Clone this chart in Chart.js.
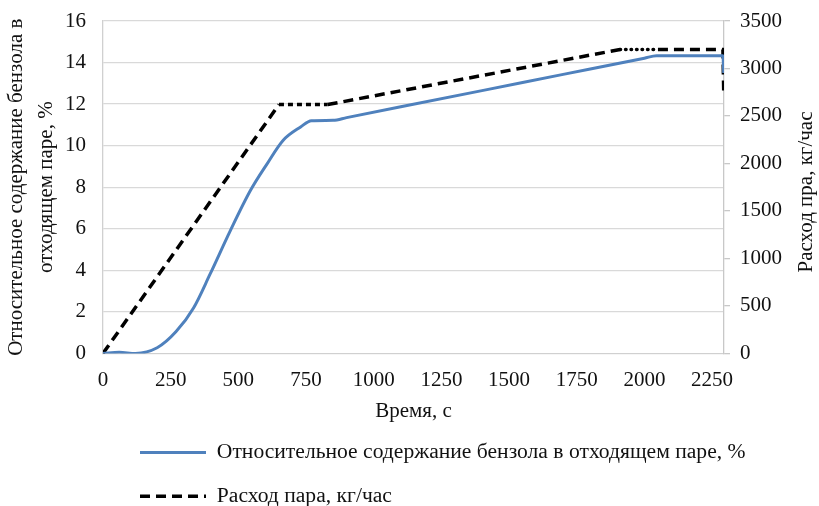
<!DOCTYPE html>
<html>
<head>
<meta charset="utf-8">
<script src="https://cdn.jsdelivr.net/npm/chart.js@4/dist/chart.umd.min.js"></script>
<style>
  html, body { margin: 0; padding: 0; background: #fff; }
  #wrap { width: 819px; height: 506px; }
</style>
</head>
<body>
<div id="wrap"><canvas id="chart"></canvas></div>
<script>
// time, s
var benz_t = [0, 60, 120, 200, 270, 335, 395, 470, 545, 605, 665, 730, 770, 850, 900, 1100, 1400, 1700, 2000, 2045, 2290, 2293];
// benzene in outgoing steam, %
var benz_v = [0, 0.05, 0, 0.27, 1.05, 2.2, 3.8, 5.9, 7.85, 9.1, 10.25, 10.9, 11.2, 11.22, 11.35, 11.87, 12.65, 13.43, 14.21, 14.33, 14.33, 13.5];

var steam_t = [0, 650, 830, 1910, 2050, 2290, 2293];
// steam flow, kg/h
var steam_v = [0, 2620, 2620, 3200, 3200, 3200, 2750];

var x_ticks = [0, 250, 500, 750, 1000, 1250, 1500, 1750, 2000, 2250];

var label_benz = 'Относительное содержание бензола в отходящем паре, %';
var label_steam = 'Расход пара, кг/час';
var title_x = 'Время, с';
var title_y = ['Относительное содержание бензола в', 'отходящем паре, %'];
var title_y1 = 'Расход пра, кг/час';

function pairs(xs, ys)
{
    var out = [];
    for (let i = 0; i < xs.length; i++)
	out.push({ x: xs[i], y: ys[i] });
    return out;
}

// dense parts of the steam series came out dotted in the original
function seg_dash(ctx)
{
    var a = ctx.p0.parsed.x, b = ctx.p1.parsed.x;
    if (a >= 650 && b <= 830)
	return [5, 4];
    if (a >= 1900 && b <= 2060)
	return [0.5, 5];
    return undefined;
}

function seg_cap(ctx)
{
    var a = ctx.p0.parsed.x, b = ctx.p1.parsed.x;
    if (a >= 1900 && b <= 2060)
	return 'round';
    return undefined;
}

function plain(v) { return String(v); }

// point style legend loses the dataset dash, put it back
function legend_labels(chart)
{
    var items = Chart.defaults.plugins.legend.labels.generateLabels(chart);
    items.forEach(function(it) {
	var ds = chart.data.datasets[it.datasetIndex];
	it.lineDash = ds.borderDash || [];
	it.lineWidth = ds.borderWidth;
	it.strokeStyle = ds.borderColor;
    });
    return items;
}

var fontFam = "'Liberation Serif', 'Times New Roman', serif";
var fontSize = 21;
Chart.defaults.font.family = fontFam;
Chart.defaults.font.size = fontSize;
Chart.defaults.color = '#111';

var rightTitle = {
    id: 'rightTitle',
    beforeDraw: function(chart) {
	// legend rows start a bit right of the plot edge in the original
	var lg = chart.legend;
	if (lg) {
	    lg.left = chart.chartArea.left + 15;
	    lg.right = chart.width;
	    lg.bottom = chart.height;
	}
    },
    afterDraw: function(chart) {
	var c = chart.ctx;
	c.save();
	c.font = fontSize + 'px ' + fontFam;
	c.fillStyle = '#111';
	c.textAlign = 'center';
	c.textBaseline = 'middle';
	c.translate(806, 192);
	c.rotate(-Math.PI / 2);
	c.fillText(title_y1, 0, 0);
	c.restore();
    }
};

const ctx = document.getElementById('chart');

new Chart(ctx, {
    type: 'line',
    data: {
	datasets: [{
	    label: label_benz,
	    data: pairs(benz_t, benz_v),
	    yAxisID: 'y',
	    borderColor: '#4f81bd',
	    backgroundColor: '#4f81bd',
	    borderWidth: 3,
	    pointRadius: 0,
	    pointStyle: 'line',
	    cubicInterpolationMode: 'monotone'
	}, {
	    label: label_steam,
	    data: pairs(steam_t, steam_v),
	    yAxisID: 'y1',
	    borderColor: '#000',
	    backgroundColor: '#000',
	    borderWidth: 3.5,
	    borderDash: [10, 6],
	    pointRadius: 0,
	    pointStyle: 'line',
	    tension: 0,
	    segment: { borderDash: seg_dash, borderCapStyle: seg_cap }
	}]
    },
    options: {
	responsive: true,
	maintainAspectRatio: false,
	animation: false,
	layout: { padding: { top: 0, right: 35, left: 0, bottom: -11 } },
	plugins: {
	    tooltip: { enabled: false },
	    legend: {
		position: 'bottom',
		align: 'start',
		fullSize: false,
		labels: {
		    usePointStyle: true,
		    pointStyleWidth: 66,
		    padding: 22,
		    color: '#111',
		    font: { size: 21.6 },
		    generateLabels: legend_labels
		}
	    }
	},
	scales: {
	    x: {
		type: 'linear',
		min: 0,
		max: 2294,
		afterBuildTicks: function(s) {
		    s.ticks = x_ticks.map(function(v) { return { value: v }; });
		},
		grid: { display: false },
		border: { display: true, color: '#d0d0d0' },
		ticks: { padding: 6, maxRotation: 0, callback: plain },
		title: { display: true, text: title_x, padding: { top: 0, bottom: -4 } }
	    },
	    y: {
		position: 'left',
		min: 0,
		max: 16,
		ticks: { stepSize: 2, padding: 17, callback: plain },
		grid: { color: '#d9d9d9', lineWidth: 1.3, drawTicks: false },
		border: { color: '#d0d0d0', width: 1.3 },
		title: { display: true, text: title_y, font: { size: fontSize, lineHeight: 1.42 }, padding: { top: 2, bottom: 0 } },
		afterFit: function(s) { s.width = 103; s.paddingTop = 21; }
	    },
	    y1: {
		position: 'right',
		min: 0,
		max: 3500,
		ticks: { stepSize: 500, padding: 10, callback: plain },
		grid: { drawOnChartArea: false, color: '#c8c8c8', tickLength: 6, lineWidth: 1.3 },
		border: { color: '#c8c8c8', width: 1.3 },
		afterFit: function(s) { s.width = 60; s.paddingTop = 21; }
	    }
	}
    },
    plugins: [rightTitle]
});
</script>
</body>
</html>
